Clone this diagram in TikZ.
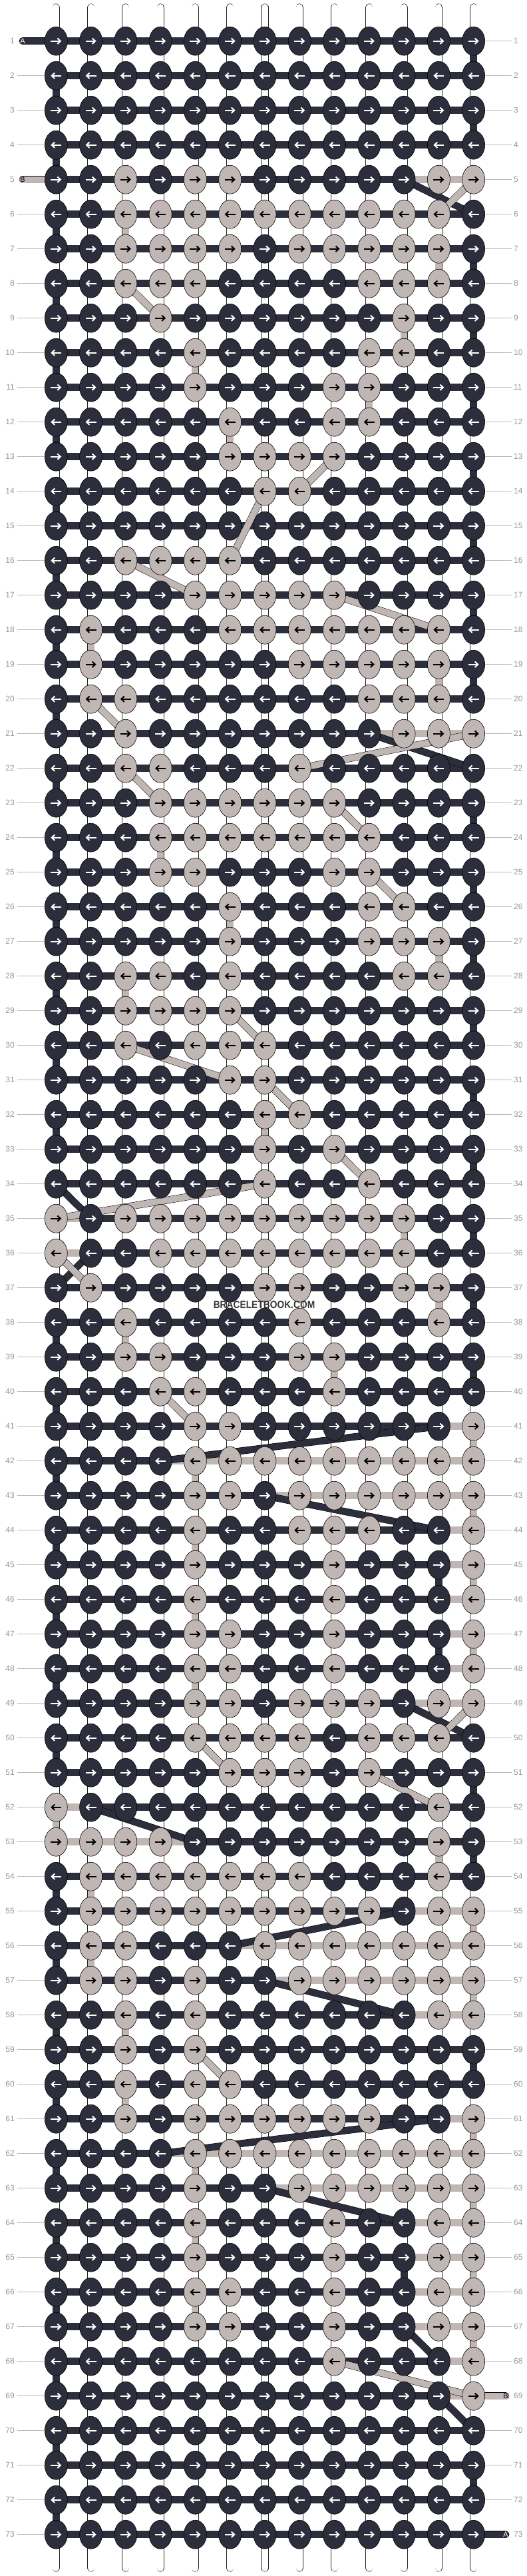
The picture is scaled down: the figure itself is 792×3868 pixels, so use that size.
\documentclass[tikz,border=0pt]{standalone}
\usepackage{fontspec}
\usepackage{graphicx}
\setmainfont{Liberation Sans}
\usepackage{tikz}
\usetikzlibrary{shapes.geometric, arrows.meta}
\pgfdeclarelayer{threads}
\pgfdeclarelayer{bars}
\pgfsetlayers{threads,bars,main}
\definecolor{knotA}{RGB}{45,46,60}
\definecolor{knotB}{RGB}{192,183,181}
\definecolor{labelgray}{RGB}{150,150,150}
\definecolor{linegray}{RGB}{185,185,185}
\definecolor{markgray}{RGB}{55,55,55}

\begin{document}
\begin{tikzpicture}[x=1pt, y=-1pt,
  knot/.style={ellipse, draw=black, line width=0.6pt, minimum width=34pt, minimum height=43pt, inner sep=0pt},
  thread/.style={draw=black!85, line width=0.6pt, double=white, double distance=10pt, line cap=round},
  rowbar/.style={line width=10.7pt, draw=knotA},
  lightbar/.style={line width=10.7pt, draw=knotB},
  darkseg/.style={line width=11.2pt, draw=knotA},
  lightseg/.style={line width=10pt, draw=knotB},
  darkstrand/.style={draw=black, line width=0.5pt, double=knotA, double distance=9.6pt},
  lightstrand/.style={draw=black, line width=0.5pt, double=knotB, double distance=9.6pt},
  knotarrow/.style={line width=2pt, -{Straight Barb[length=4.5pt,width=8.5pt]}},
  rowlabel/.style={text=labelgray, font=\fontsize{12}{12}\selectfont, inner ysep=0pt, inner xsep=3.5pt},
  rowline/.style={draw=linegray, line width=1pt},
  tag/.style={font=\fontsize{11}{11}\selectfont, inner sep=0pt}]

    \useasboundingbox (0,0) rectangle (792,3868);

    %Knots, one row at a time (listed columns are light)
    \foreach \r/\lt in {1/{0},2/{0},3/{0},4/{0},5/{3,5,6,12,13},6/{3,4,5,6,7,8,9,10,11,12},7/{3,4,5,6,8,9,10,11,12},8/{3,4,5,10,11,12},9/{4,11},10/{5,10,11},
      11/{5,9,10},12/{6,9,10},13/{6,7,8,9},14/{7,8},15/{0},16/{3,4,5,6},17/{5,6,7,8,9},18/{2,6,7,8,9,10,11,12},19/{2,8,9,10,11,12},20/{2,3,10,11,12},
      21/{3,11,12,13},22/{3,4,8},23/{4,5,6,7,8,9},24/{4,5,6,7,8,9,10},25/{4,5,9,10},26/{6,10,11},27/{6,10,11,12},28/{3,4,6,11,12},29/{3,4,5,6},30/{3,5,6,7},
      31/{6,7},32/{7,8},33/{7,9},34/{7,10},35/{1,3,4,5,6,7,8,9,10,11},36/{1,4,5,6,7,8,9,10,11},37/{2,7,8,11,12},38/{3,8,12},39/{3,4,8,9},40/{4,5,9},
      41/{5,6,13},42/{5,6,7,8,9,10,11,12,13},43/{5,6,8,9,10,11,12,13},44/{5,8,9,10,13},45/{5,9,13},46/{5,9,13},47/{5,6,9,13},48/{5,6,9,13},49/{5,6,8,9,10,12,13},50/{5,6,7,8,10,11,12},
      51/{6,7,8,10},52/{1,12},53/{1,2,3,4,12},54/{2,3,4,5,6,7,8,12},55/{2,3,4,5,6,7,8,9,10,12,13},56/{2,3,7,8,9,10,11,12,13},57/{2,3,5,8,9,10,11,12,13},58/{3,5,12,13},59/{3,5},60/{3,5,6},
      61/{3,5,6,7,8,9,10,13},62/{5,6,7,8,9,10,11,12,13},63/{5,8,9,10,11,12,13},64/{5,9,12,13},65/{5,9,12,13},66/{5,6,9,12,13},67/{5,6,9,12,13},68/{9,13},69/{13},70/{0},
      71/{0},72/{0},73/{0}} {
      \pgfmathsetmacro\ky{61.7+(\r-1)*52}
      \node[rowlabel, anchor=east] (ll\r) at (25.5,\ky) {\r};
      \node[rowlabel, anchor=west] (lr\r) at (768.5,\ky) {\r};
      \foreach \c in {1,...,13} {
        \pgfmathsetmacro\kx{84.3+(\c-1)*52.28}
        \gdef\kfill{knotA}\gdef\karrow{white}
        \foreach \l in \lt {\ifnum\l=\c\relax \gdef\kfill{knotB}\gdef\karrow{black}\fi}
        \node[knot, fill=\kfill] (k\r-\c) at (\kx,\ky) {};
        \ifodd\r\relax
          \draw[knotarrow, draw=\karrow] ([xshift=-8pt]k\r-\c.center) -- ([xshift=8pt]k\r-\c.center);
        \else
          \draw[knotarrow, draw=\karrow] ([xshift=8pt]k\r-\c.center) -- ([xshift=-8pt]k\r-\c.center);
        \fi
      }
    }

    %Row lines
    \foreach \r in {2,3,4,6,7,...,73} \draw[rowline] (ll\r) -- (k\r-1);
    \foreach \r in {1,...,68,70,71,72} \draw[rowline] (k\r-13) -- (lr\r);

    %Loose ends
    \coordinate (inA) at (34,61.7);
    \coordinate (inB) at (34,269.7);
    \coordinate (outB) at (760,3597.7);
    \coordinate (outA) at (760,3805.7);
    \node[tag, text=white] (tagA1) at (inA) {A};
    \node[tag, text=black] (tagB1) at (inB) {B};
    \node[tag, text=black] (tagB2) at (outB) {B};
    \node[tag, text=white] (tagA2) at (outA) {A};

    \node[text=markgray, inner sep=0pt] (mark) at (397,1959) {\scalebox{0.89}[1]{\fontsize{15.5}{15.5}\selectfont\bfseries BRACELETBOOK.COM}};

    %Threads
    \begin{pgfonlayer}{threads}
      \fill[white] (0,0) rectangle (792,3868);
      \foreach \c in {1,...,13} {
        \pgfmathsetmacro\kx{84.3+(\c-1)*52.28}
        \coordinate (top\c) at (\kx,11);
        \coordinate (bot\c) at (\kx,3856);
        \draw[thread] (top\c) -- (bot\c);
      }
    \end{pgfonlayer}

    %Bars and strands
    \begin{pgfonlayer}{bars}
      \foreach \r in {1,...,73} \draw[rowbar] (k\r-1.center) -- (k\r-13.center);
      \foreach \r/\a/\b in {5/11/13,21/10/13,35/1/2,36/1/2,41/12/13,42/4/13,43/7/13,44/12/13,45/12/13,46/12/13,47/12/13,48/12/13,49/11/13,
        52/1/2,53/1/5,55/11/13,56/6/13,57/7/13,58/11/13,61/12/13,62/4/13,63/7/13,64/11/13,65/11/13,66/11/13,67/11/13,68/12/13,69/12/13}
        \draw[lightbar] (k\r-\a.center) -- (k\r-\b.center);
      % turns at the edges
      \foreach \r in {1,3,7,9,11,13,15,17,19,23,25,27,29,31,33,35,37,39,51,53,59,71} {
        \pgfmathtruncatemacro\rn{\r+1}
        \draw[darkseg] (k\r-13.center) -- (k\rn-13.center);
      }
      \foreach \r in {2,4,...,32,38,40,...,50,54,56,...,72} {
        \pgfmathtruncatemacro\rn{\r+1}
        \draw[darkseg] (k\r-1.center) -- (k\rn-1.center);
      }
      \foreach \r/\c in {45/12,47/12,65/11} {
        \pgfmathtruncatemacro\rn{\r+1}
        \draw[darkseg] (k\r-\c.center) -- (k\rn-\c.center);
      }
      \foreach \r/\c in {41/13,43/13,45/13,47/13,55/13,57/13,61/13,63/13,65/13,67/13,
        6/3,7/12,9/11,10/5,11/10,12/6,18/2,19/12,24/4,26/6,27/12,28/3,32/7,35/11,37/12,38/3,39/9,
        42/5,44/5,46/5,48/5,52/1,53/12,54/2,56/2,58/3,60/3,62/5,64/5,66/5} {
        \pgfmathtruncatemacro\rn{\r+1}
        \draw[lightseg] (k\r-\c.center) -- (k\rn-\c.center);
      }
      % crossing strands
      \foreach \ra/\ca/\rb/\cb in {5/11/6/13,21/10/22/13,34/1/35/2,36/2/37/1,41/12/42/4,43/7/44/12,49/11/50/13,
        52/2/53/5,55/11/56/6,57/7/58/11,61/12/62/4,63/7/64/11,67/11/68/12,69/12/70/13}
        \draw[darkstrand] (k\ra-\ca.center) -- (k\rb-\cb.center);
      \foreach \ra/\ca/\rb/\cb in {5/13/6/12,8/3/9/4,13/9/14/8,14/7/16/6,16/3/17/5,17/9/18/12,20/2/21/3,21/13/22/8,
        22/3/23/4,23/9/24/10,25/10/26/11,29/6/30/7,30/3/31/6,31/7/32/8,33/9/34/10,34/7/35/1,36/1/37/2,
        40/4/41/5,49/13/50/12,50/5/51/6,51/10/52/12,59/5/60/6,68/9/69/13}
        \draw[lightstrand] (k\ra-\ca.center) -- (k\rb-\cb.center);
      % loose ends
      \draw[darkstrand, line cap=round] (inA) -- (k1-1.center);
      \draw[lightstrand, line cap=round] (inB) -- (k5-1.center);
      \draw[lightstrand, line cap=round] (k69-13.center) -- (outB);
      \draw[darkstrand, line cap=round] (k73-13.center) -- (outA);
    \end{pgfonlayer}
\end{tikzpicture}
\end{document}
